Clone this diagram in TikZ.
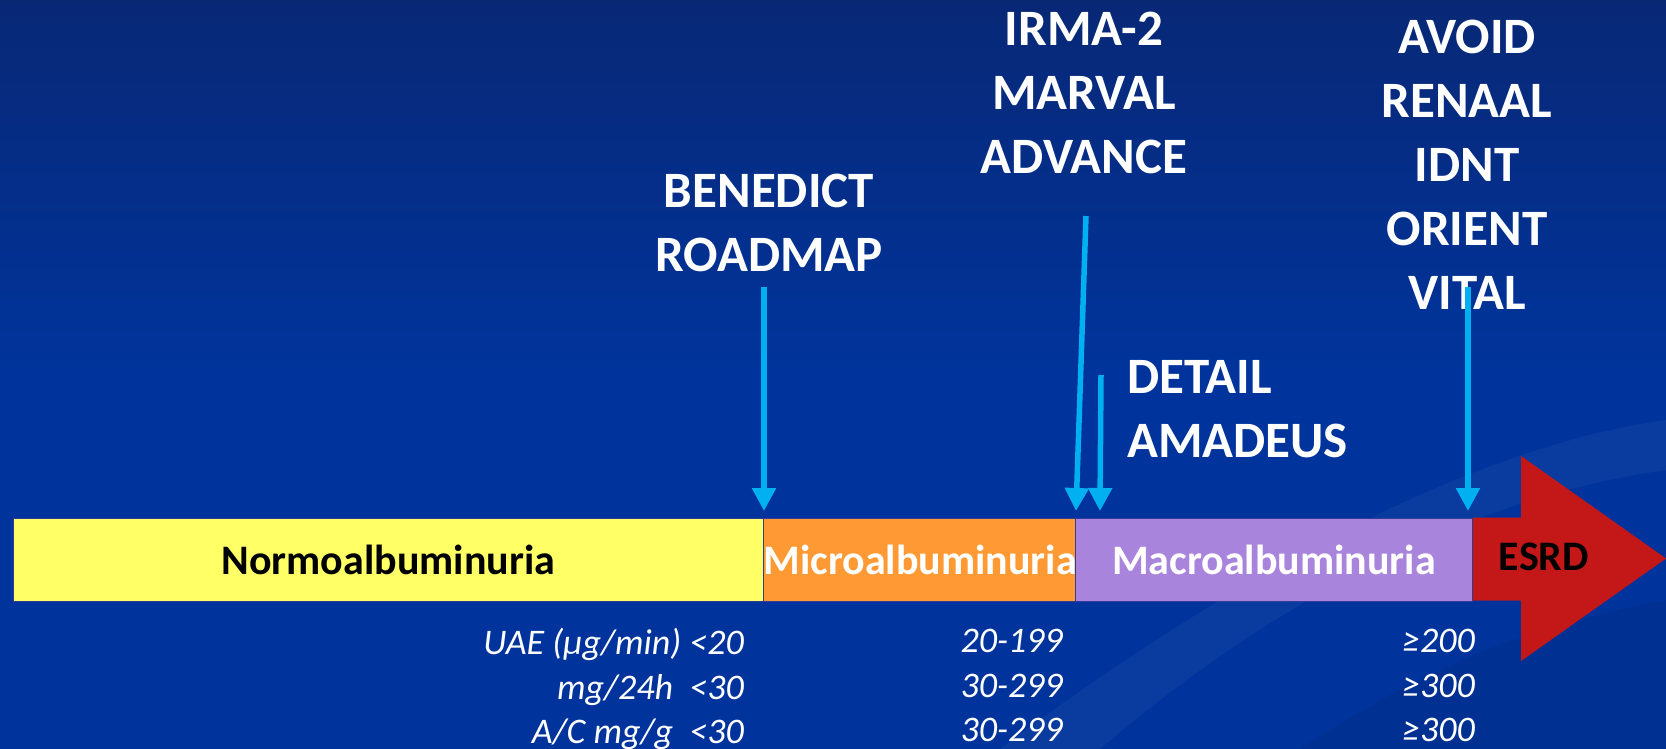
\documentclass[tikz,border=0pt]{standalone}
\usepackage{fontspec}
\setmainfont{Carlito}
\usetikzlibrary{arrows.meta}
\definecolor{bgtop}{RGB}{8,40,118}
\definecolor{bgbot}{RGB}{0,52,156}
\definecolor{normo}{RGB}{255,255,102}
\definecolor{micro}{RGB}{255,153,51}
\definecolor{macro}{RGB}{169,132,220}
\definecolor{esrdred}{RGB}{196,24,24}
\definecolor{pointer}{RGB}{0,176,240}
\definecolor{barline}{RGB}{50,60,150}
\tikzset{
  x=1pt, y=-1pt,
  stagebar/.style={draw=barline, line width=1pt, rectangle, inner sep=0pt, anchor=north west,
    minimum height=83pt, font={\fontsize{42}{48}\selectfont\bfseries}},
  trial/.style={inner sep=0pt, text=white, align=center, font={\fontsize{51}{64}\selectfont\bfseries}},
  values/.style={inner sep=0pt, text=white, align=right, anchor=north east, font={\fontsize{36}{44.5}\selectfont\itshape}},
  pointerarrow/.style={draw=pointer, line width=5.5pt, -{Triangle[length=23pt,width=23pt]}}
}
\begin{document}
\begin{tikzpicture}
\useasboundingbox (0,0) rectangle (1666,749);
\shade[top color=bgtop, bottom color=bgbot, middle color=bgbot] (0,0) rectangle (1666,749);
% faint background swooshes
\fill[white, opacity=0.04] (1000,749) .. controls (1200,600) and (1450,450) .. (1666,420) -- (1666,470) .. controls (1450,500) and (1250,620) .. (1100,749) -- cycle;
\fill[black, opacity=0.06] (1300,749) .. controls (1450,650) and (1560,620) .. (1666,600) -- (1666,749) -- cycle;

% stage bars
\node[stagebar, fill=normo, minimum width=750pt, text=black] (normo) at (12.75,517.5) {Normoalbuminuria};
\node[stagebar, fill=micro, minimum width=312pt, text=white] (micro) at (763,517.5) {Microalbuminuria};
\node[stagebar, fill=macro, minimum width=397pt, text=white] (macro) at (1075,517.5) {Macroalbuminuria};
\fill[esrdred] (1473,517.5) -- (1521,517.5) -- (1521,456) -- (1666,558.5) -- (1521,661) -- (1521,600.5) -- (1473,600.5) -- cycle;
\node[inner sep=0pt, font={\fontsize{42}{48}\selectfont\bfseries}, text=black] (esrd) at (1544,557) {ESRD};

% trial labels
\node[trial, anchor=north] (bene) at (769,174) {BENEDICT\\ROADMAP};
\node[trial, anchor=north] (irma) at (1084,12) {IRMA-2\\MARVAL\\ADVANCE};
\node[trial, anchor=north] (avoid) at (1467,20) {AVOID\\RENAAL\\IDNT\\ORIENT\\VITAL};
\node[trial, anchor=north west, align=left] (detail) at (1127,360) {DETAIL\\AMADEUS};

% pointer arrows
\coordinate (s1) at (764,287);  \coordinate (e1) at (764,511);
\coordinate (s2) at (1086,216); \coordinate (e2) at (1076,511);
\coordinate (s3) at (1101,375); \coordinate (e3) at (1100,511);
\coordinate (s4) at (1468,287); \coordinate (e4) at (1468,511);
\draw[pointerarrow] (s1) -- (e1);
\draw[pointerarrow] (s2) -- (e2);
\draw[pointerarrow] (s3) -- (e3);
\draw[pointerarrow] (s4) -- (e4);

% values
\node[values] (v1) at (744,628) {UAE (µg/min) <20\\mg/24h\ \ <30\\A/C mg/g\ \ <30};
\node[values] (v2) at (1063,629) {20-199\\30-299\\30-299};
\node[values] (v3) at (1475,629) {≥200\\≥300\\≥300};
\end{tikzpicture}
\end{document}
